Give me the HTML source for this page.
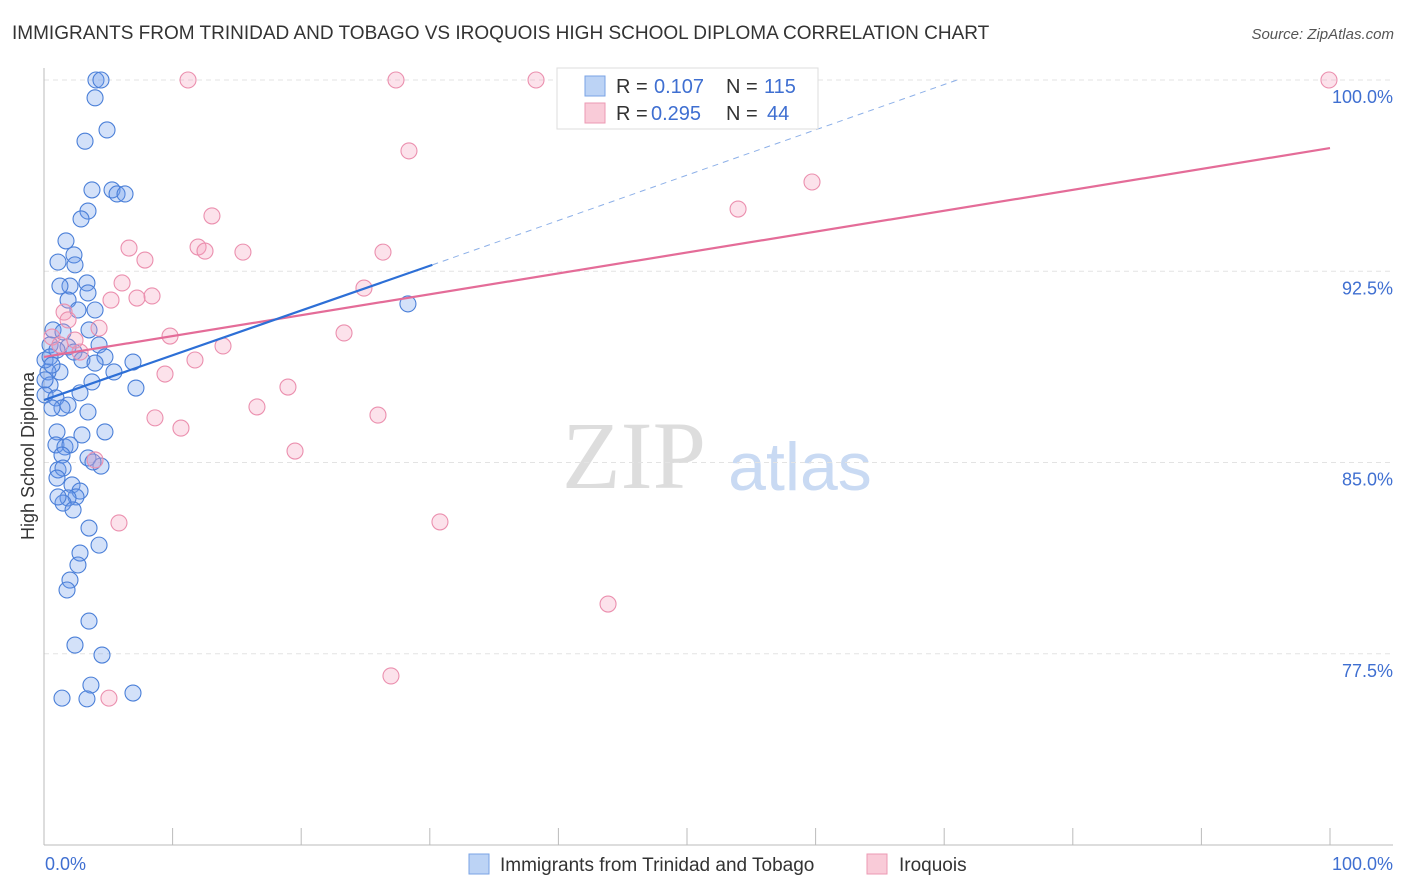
<!DOCTYPE html>
<html><head><meta charset="utf-8"><style>
body{margin:0;background:#fff;font-family:"Liberation Sans",sans-serif;}
svg{display:block}
</style></head><body>
<svg id="chart" width="1406" height="892" viewBox="0 0 1406 892">
<text x="12" y="39" font-size="19" fill="#333">IMMIGRANTS FROM TRINIDAD AND TOBAGO VS IROQUOIS HIGH SCHOOL DIPLOMA CORRELATION CHART</text>
<text x="1394" y="39" font-size="15" fill="#555" font-style="italic" text-anchor="end">Source: ZipAtlas.com</text>
<text x="634" y="488" font-size="96" fill="#ddd" font-family="Liberation Serif,serif" text-anchor="middle">ZIP</text>
<text x="800" y="490" font-size="68" fill="#c9daf3" text-anchor="middle">atlas</text>
<text transform="translate(34,456) rotate(-90)" font-size="18" fill="#333" text-anchor="middle">High School Diploma</text>
<g id="grid"></g><g id="marks"></g>
<g>
<rect x="557" y="68" width="261" height="61" fill="#fff" stroke="#ddd"/>
<rect x="585" y="76" width="20" height="20" fill="#bcd3f5" stroke="#7aa3e5"/>
<text x="616" y="93" font-size="20" fill="#333">R =</text>
<text x="654" y="93" font-size="20" fill="#3f6fd1">0.107</text>
<text x="726" y="93" font-size="20" fill="#333">N =</text>
<text x="764" y="93" font-size="20" fill="#3f6fd1">115</text>
<rect x="585" y="103" width="20" height="20" fill="#f9cbd8" stroke="#ec99b3"/>
<text x="616" y="120" font-size="20" fill="#333">R =</text>
<text x="651" y="120" font-size="20" fill="#3f6fd1">0.295</text>
<text x="726" y="120" font-size="20" fill="#333">N =</text>
<text x="767" y="120" font-size="20" fill="#3f6fd1">44</text>
</g>
<g>
<rect x="469" y="854" width="20" height="20" fill="#bcd3f5" stroke="#7aa3e5"/>
<text x="500" y="871" font-size="19" fill="#333">Immigrants from Trinidad and Tobago</text>
<rect x="867" y="854" width="20" height="20" fill="#f9cbd8" stroke="#ec99b3"/>
<text x="899" y="871" font-size="19" fill="#333">Iroquois</text>
</g>
</svg>
<script>
const yTicks=[100,92.5,85,77.5];
const yTickLabels=["100.0%","92.5%","85.0%","77.5%"];
const xTickLabels=["0.0%","100.0%"];
const blueX=[4.04,4.43,3.97,4.9,3.19,3.73,5.29,5.68,6.3,3.42,2.88,1.71,2.33,1.09,2.41,3.34,2.02,1.24,3.42,1.87,2.64,3.97,0.7,1.48,3.5,4.28,0.47,1.87,1.01,2.33,4.74,2.95,3.97,6.92,5.44,1.24,0.31,3.73,7.15,0.47,2.8,0.08,0.93,1.87,1.4,0.62,3.42,2.95,4.74,1.01,0.93,1.63,2.02,1.4,3.42,4.43,3.81,1.09,1.48,1.01,2.18,2.8,2.49,1.87,1.48,1.09,2.26,3.5,4.28,2.8,2.64,2.02,1.79,3.5,2.41,4.51,3.65,1.4,3.34,6.92,28.3,0.08,0.47,0.08,0.62];
const blueY=[100,100,99.3,98.04,97.6,95.69,95.69,95.53,95.53,94.86,94.55,93.69,93.14,92.86,92.75,92.04,91.92,91.92,91.65,91.37,90.98,90.98,90.2,90.12,90.2,89.61,89.61,89.53,89.41,89.33,89.14,89.02,88.9,88.94,88.55,88.55,88.55,88.16,87.92,88.04,87.73,87.65,87.53,87.25,87.14,87.14,86.98,86.08,86.2,86.2,85.69,85.61,85.69,85.29,85.18,84.86,85.02,84.71,84.78,84.39,84.12,83.88,83.65,83.61,83.41,83.65,83.14,82.43,81.76,81.45,80.98,80.39,80.0,78.78,77.84,77.45,76.27,75.76,75.73,75.96,91.22,89.02,89.14,88.24,88.82];
const pinkX=[11.2,27.37,38.26,99.92,28.38,59.72,53.97,13.06,6.61,11.98,12.52,15.47,26.36,7.85,6.07,8.4,7.23,5.21,24.88,1.56,1.87,4.28,9.8,23.33,0.62,13.92,2.8,11.74,9.41,18.97,16.56,8.63,10.65,25.97,19.52,3.97,5.83,30.79,43.86,26.98,5.05,1.24,2.41];
const pinkY=[100,100,100,100,97.22,96.0,94.94,94.67,93.41,93.45,93.29,93.25,93.25,92.94,92.04,91.53,91.45,91.37,91.84,90.9,90.59,90.27,89.96,90.08,89.92,89.57,89.33,89.02,88.47,87.96,87.18,86.75,86.35,86.86,85.45,85.1,82.63,82.67,79.45,76.63,75.76,89.61,89.8];
const blueLine=[[0,87.45],[30.2,92.75]];
const blueDash=[[30.2,92.75],[71,100]];
const pinkLine=[[0,89.14],[100,97.33]];
const NS='http://www.w3.org/2000/svg';
const X=v=>44+v*12.86, Y=v=>80+(100-v)*25.5;
function mk(t,a,p){const e=document.createElementNS(NS,t);for(const k in a)e.setAttribute(k,a[k]);p.appendChild(e);return e;}
const g=document.getElementById('grid'),m=document.getElementById('marks');
yTicks.forEach((t,i)=>{
 const l=mk('line',{x1:44,x2:1393,y1:Y(t),y2:Y(t),stroke:'#e3e3e3','stroke-dasharray':'5,4'},g);
 
 
 const tx=mk('text',{x:1393,y:Y(t)+23,'font-size':18,fill:'#3f6fd1','text-anchor':'end'},g);tx.textContent=yTickLabels[i];
 
 
});
let ax=mk('line',{x1:44,x2:44,y1:68,y2:845,stroke:'#bbb'},g);


ax=mk('line',{x1:44,x2:1393,y1:845,y2:845,stroke:'#bbb'},g);


for(let i=0;i<=10;i++){const t=mk('line',{x1:X(i*10),x2:X(i*10),y1:828,y2:845,stroke:'#bbb'},g);
 
 }
[[0,'start',45],[100,'end',1393]].forEach((d,i)=>{const t=mk('text',{x:d[2],y:870,'font-size':18,fill:'#3f6fd1','text-anchor':d[1]},g);t.textContent=xTickLabels[i];
 
 });
function pts(xs,ys,fill,stroke,name){xs.forEach((x,i)=>{const c=mk('circle',{cx:X(x),cy:Y(ys[i]),r:8,fill:fill,stroke:stroke,'stroke-width':1.1},m);
 
 });}
pts(blueX,blueY,'rgba(110,155,235,0.3)','#4a7fd8','blue-point');
pts(pinkX,pinkY,'rgba(245,160,190,0.3)','#eb8fae','pink-point');
function ln(d,col,w,dash,name){const l=mk('line',{x1:X(d[0][0]),y1:Y(d[0][1]),x2:X(d[1][0]),y2:Y(d[1][1]),stroke:col,'stroke-width':w},m);if(dash)l.setAttribute('stroke-dasharray',dash);
 
 }
ln(pinkLine,'#e46c98',2.2,null,'pink-trendline');
ln(blueLine,'#2d6fd6',2.2,null,'blue-trendline');
ln(blueDash,'#8db0e8',1,'6,5','blue-trendline-extension');
</script>
</body></html>
